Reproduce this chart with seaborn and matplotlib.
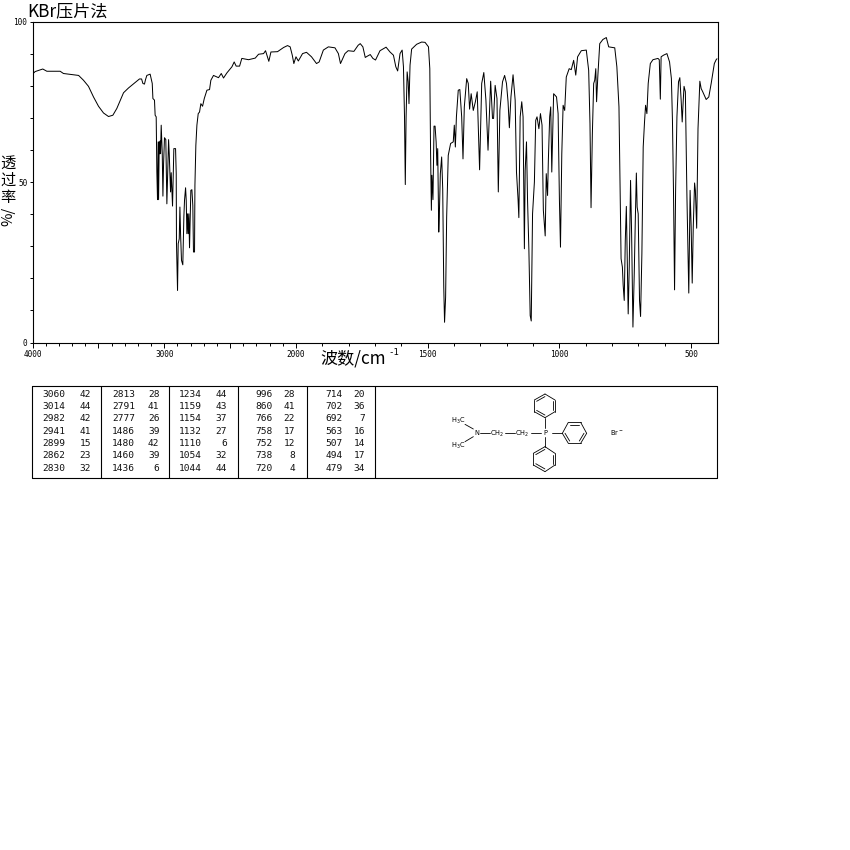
import numpy as np
import pandas as pd
import matplotlib
matplotlib.use("Agg")
import matplotlib.pyplot as plt
from matplotlib.ticker import FixedLocator, FixedFormatter
import seaborn as sns

# ---------- data ----------
wn_broad = [4000,3980,3922,3891,3790,3765,3650,3613,3575,3537,3499,3461,3423,3390,3360,3309,3271,3188,3172,3162,3150,3142,3132,3107,3091,3086,3074,3069,3061]
t_broad  = [83.6,84.4,85.2,84.5,84.5,83.8,83.2,81.7,79.8,76.5,73.6,71.5,70.4,70.8,72.9,77.8,79.3,82.1,82.1,80.7,80.5,81.9,83.2,83.6,80.7,76.0,75.5,70.8,70.3]

wn_ch = [3056,3051,3046,3043,3038,3036,3031,3028,3023,3015,3010,3005,2998,2988,2980,2967,2962,2952,2947,2937,2927,2914,2909,2907,2899,2894,2886,2881,2876,2869,2859,2851,2846,2838,2833,2828,2823,2818,2813,2808,2798,2790,2783,2778,2770,2767,2760,2752,2742,2732,2722,2709,2696,2676,2656,2646]
t_ch  = [53.1,44.5,62.5,44.5,62.5,58.8,62.8,58.8,67.7,58.8,45.6,55.7,63.8,63.2,43.2,63.2,58.8,46.9,52.9,42.5,60.4,60.4,52.6,31.0,16.2,30.8,32.3,42.2,33.9,25.6,24.2,39.1,44.3,48.2,44.3,33.9,40.1,33.9,40.1,29.5,47.4,47.6,42.7,28.2,28.2,49.0,61.4,67.7,71.3,71.8,74.4,73.6,76.0,78.6,78.8,81.7]

wn_over = [2626,2588,2567,2550,2524,2486,2469,2454,2428,2411,2360,2309,2284,2246,2231,2206,2190,2140,2094,2064,2044,2028,2016,2000,1991,1975,1960,1941,1922,1912,1896,1877,1852,1839,1831,1814,1802,1780,1764,1756,1746,1737,1729,1718,1708,1698,1681,1658,1643,1630,1621,1614,1605,1597,1592,1588,1585,1582,1578,1574,1571,1567,1561,1542,1523,1510,1497,1492]
t_over  = [83.2,82.5,83.8,82.4,84.0,85.9,87.4,86.1,86.1,88.5,88.1,88.6,89.8,90.0,90.9,87.6,90.5,90.6,91.9,92.5,92.1,89.5,86.9,89.0,87.7,90.0,90.4,89.0,86.9,87.4,91.1,92.1,91.8,90.0,86.9,90.0,90.9,90.7,92.6,93.1,92.1,88.8,89.2,89.7,88.5,88.0,90.9,92.0,90.5,89.5,85.9,84.6,90.0,91.1,85.9,70.3,49.2,70.3,84.3,81.2,74.4,86.4,91.4,92.9,93.6,93.5,92.1,85.3]

wn_fp1 = [1489,1486,1484,1480,1476,1472,1468,1465,1462,1458,1456,1452,1447,1443,1439,1436,1432,1428,1422,1413,1403,1399,1395,1391,1384,1378,1371,1366,1361,1352,1346,1341,1335,1327,1319,1312,1303,1295,1287,1279,1271,1261,1254,1250,1244,1237,1232,1226,1216,1208,1201,1195,1190,1184,1176,1168,1163,1157,1154,1149,1143,1138,1133,1130,1125,1121,1116,1111,1107,1102,1095,1090,1085,1078,1072,1066,1061,1054,1050,1045,1042,1037,1033,1029,1022,1011,1005,1000,996,991,986,980,974,963,955,946,938,931,917,898,889,884,880,875,870,866,862,859,854,847,835,822,813,790,782,774]
t_fp1  = [58.8,41.2,52.1,44.5,67.4,67.4,62.5,55.2,60.4,34.4,39.1,52.6,57.8,47.9,17.3,6.3,14.1,39.1,58.3,62.0,62.5,67.7,60.9,70.3,78.6,78.8,70.3,57.2,73.4,82.2,80.7,72.7,77.5,72.3,75.0,78.1,53.8,80.7,84.1,75.5,59.9,81.4,69.8,69.8,80.1,76.0,46.9,72.3,81.2,83.2,80.7,75.0,66.9,76.5,83.4,75.5,53.1,44.6,38.9,70.3,75.0,70.3,29.2,53.6,62.5,44.3,29.2,8.4,6.7,40.1,50.0,69.2,70.3,66.6,71.3,67.7,41.2,33.2,52.6,45.8,56.8,70.3,73.4,53.1,77.5,76.5,71.3,44.3,29.7,58.8,73.9,72.3,82.7,85.3,85.0,87.9,83.3,89.0,90.9,91.1,84.8,68.2,42.0,65.0,80.7,81.7,85.3,75.0,83.3,93.1,94.4,95.0,92.1,91.8,85.9,73.4]

wn_fp2 = [769,766,761,758,754,750,746,742,739,735,730,726,721,716,712,708,705,701,696,692,687,682,677,673,668,663,655,645,626,621,617,614,605,592,582,575,571,567,563,559,554,548,543,538,534,530,527,522,516,509,504,500,496,492,487,484,479,474,467,462,456,443,433,424,412,405,402]
t_fp2  = [44.3,26.1,23.5,17.8,13.1,31.8,42.4,23.5,8.9,23.5,50.5,33.9,4.8,21.4,38.0,52.8,42.2,40.1,13.1,8.1,27.7,60.9,68.7,73.9,71.3,80.7,86.9,88.1,88.5,88.1,75.8,89.0,89.5,90.0,87.4,82.2,69.2,46.9,16.4,47.4,70.3,81.2,82.5,75.5,68.7,75.5,79.8,78.1,45.3,15.4,47.4,36.0,18.5,36.0,49.7,47.4,35.6,66.6,81.4,79.1,78.1,75.7,76.5,80.7,86.9,88.1,88.4]

peak_col1 = [("3060",42),("3014",44),("2982",42),("2941",41),("2899",15),("2862",23),("2830",32)]
peak_col2 = [("2813",28),("2791",41),("2777",26),("1486",39),("1480",42),("1460",39),("1436",6)]
peak_col3 = [("1234",44),("1159",43),("1154",37),("1132",27),("1110",6),("1054",32),("1044",44)]
peak_col4 = [("996",28),("860",41),("766",22),("758",17),("752",12),("738",8),("720",4)]
peak_col5 = [("714",20),("702",36),("692",7),("563",16),("507",14),("494",17),("479",34)]

x_major = [4000,3500,3000,2500,2000,1500,1000,500]
x_labels = ["4000","","3000","","2000","1500","1000","500"]
x_minor = list(range(3900,2000,-100)) + list(range(1900,400,-100))
y_ticks = [0,10,20,30,40,50,60,70,80,90,100]
y_labels = ["0","","","","","50","","","","","100"]

# ---------- figure ----------
sns.set_theme(style="white")
plt.rcParams['font.family'] = ['Noto Sans CJK SC', 'DejaVu Sans']
W = H = 850
fig = plt.figure(figsize=(8.5, 8.5), dpi=100, facecolor="white")
ax = fig.add_axes([32.5/W, 1-342.5/H, 685/W, 321/H])

df = pd.DataFrame({
    "wavenumber": wn_broad + wn_ch + wn_over + wn_fp1 + wn_fp2,
    "transmittance": t_broad + t_ch + t_over + t_fp1 + t_fp2,
})
sns.lineplot(data=df, x="wavenumber", y="transmittance", ax=ax, sort=False,
             estimator=None, color="black", lw=0.72)

# wavenumbers above 2000 are drawn at half scale
fwd = lambda v: np.where(np.asarray(v, float) > 2000, 2000 + (np.asarray(v, float) - 2000)/2, np.asarray(v, float))
inv = lambda v: np.where(np.asarray(v, float) > 2000, 2000 + (np.asarray(v, float) - 2000)*2, np.asarray(v, float))
ax.set_xscale("function", functions=(fwd, inv))
ax.set_xlim(4000, 400)
ax.set_ylim(0, 100)
ax.xaxis.set_major_locator(FixedLocator(x_major))
ax.xaxis.set_major_formatter(FixedFormatter(x_labels))
ax.xaxis.set_minor_locator(FixedLocator(x_minor))
ax.yaxis.set_major_locator(FixedLocator(y_ticks))
ax.yaxis.set_major_formatter(FixedFormatter(y_labels))
ax.set_xlabel("")
ax.set_ylabel("")
mono = "DejaVu Sans Mono"
ax.tick_params(axis="x", which="major", bottom=True, length=3.6, width=0.7, pad=1.5, labelsize=5.6, color="black", labelcolor="black")
ax.tick_params(axis="x", which="minor", bottom=True, length=2.2, width=0.7, color="black")
ax.tick_params(axis="y", which="major", left=True, length=2.2, width=0.7, pad=1.5, labelsize=5.6, color="black", labelcolor="black")
for lab in ax.get_xticklabels() + ax.get_yticklabels():
    lab.set_family(mono)
for s in ax.spines.values():
    s.set_visible(True)
    s.set_color("black")
    s.set_linewidth(0.8)

# overlay in pixel coordinates for the annotations, table and structure
ov = fig.add_axes([0, 0, 1, 1], facecolor="none")
ov.set_xlim(0, W)
ov.set_ylim(H, 0)
ov.axis("off")

cjk = ['Noto Sans CJK SC', 'DejaVu Sans']
ov.text(27, 11, "KBr压片法", fontsize=12.3, family=cjk, va="center", ha="left", color="black")
ov.text(320, 358, "波数/cm", fontsize=12.3, family=cjk, va="center", ha="left", color="black")
ov.text(388, 352, "-1", fontsize=6.5, family=mono, va="center", ha="left", color="black")
for ch, yy in [("透", 163), ("过", 180), ("率", 197)]:
    ov.text(8, yy, ch, fontsize=11, family=cjk, va="center", ha="center", color="black")
ov.text(8, 216, "%/", fontsize=10.5, family=cjk, va="center", ha="center", rotation=90, color="black")

# table
ov.plot([32.5, 717.5, 717.5, 32.5, 32.5], [385.5, 385.5, 477.5, 477.5, 385.5], color="black", lw=0.8)
for sx in [101.5, 169.5, 238.5, 307.5, 375.5]:
    ov.plot([sx, sx], [385.5, 477.5], color="black", lw=0.8)
row_y = [394.3, 406.6, 418.9, 431.2, 443.5, 455.8, 468.1]
cols = [(peak_col1, 65, 91), (peak_col2, 135, 159.5), (peak_col3, 202, 227), (peak_col4, 272.5, 295), (peak_col5, 343, 365)]
for col, xw, xv in cols:
    for (w, v), yy in zip(col, row_y):
        ov.text(xw, yy, w, family=mono, fontsize=6.8, ha="right", va="center", color="#111111")
        ov.text(xv, yy, str(v), family=mono, fontsize=6.8, ha="right", va="center", color="#111111")

# structure
def bond(x0, y0, x1, y1, lw=0.6):
    ov.plot([430 + x0/3, 430 + x1/3], [385 + y0/3, 385 + y1/3], color="black", lw=lw)

def ring(pts, doubles):
    n = len(pts)
    for i in range(n):
        bond(*pts[i], *pts[(i+1) % n])
    cx = sum(p[0] for p in pts)/n
    cy = sum(p[1] for p in pts)/n
    for i in doubles:
        a, b = pts[i], pts[(i+1) % n]
        f = 0.78
        bond(cx+(a[0]-cx)*f, cy+(a[1]-cy)*f, cx+(b[0]-cx)*f, cy+(b[1]-cy)*f)

ring([(345,27),(375,45),(375,80),(345,98),(313,80),(313,45)], [1, 3, 5])
ring([(345,185),(375,205),(375,240),(345,260),(310,240),(310,205)], [1, 3, 5])
ring([(397,145),(415,112),(452,112),(470,145),(452,175),(415,175)], [1, 3, 5])
for seg in [(105,118,130,132),(105,170,130,155),(150,145,180,145),(225,145,255,145),
            (303,145,332,145),(345,130,345,98),(365,145,397,145),(345,155,345,185)]:
    bond(*seg)
for lbl, lx, ly in [("H$_3$C",458.5,421),("H$_3$C",458.5,445.5),("N",476.5,433),("CH$_2$",497,434),
                    ("CH$_2$",522,434),("P",545,432.5),("Br$^-$",617,432.5)]:
    ov.text(lx, ly, lbl, family="DejaVu Sans", fontsize=4.8, ha="center", va="center", color="black")

fig.savefig("out.png", dpi=100, facecolor="white")
